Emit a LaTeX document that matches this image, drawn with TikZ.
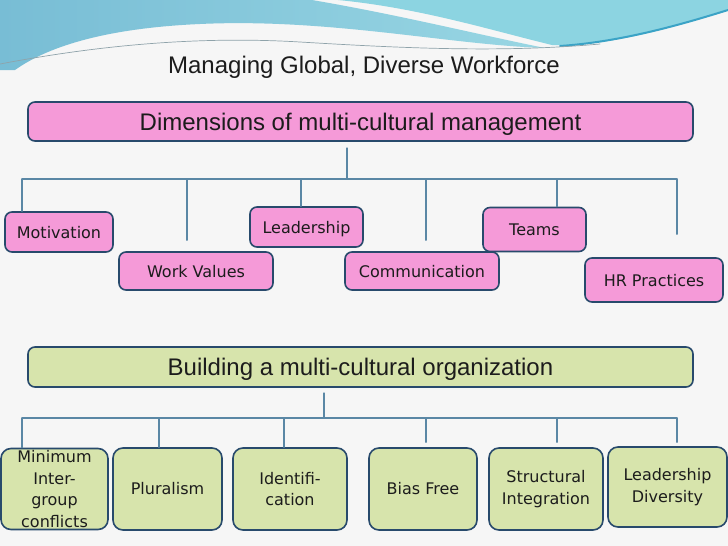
\documentclass[tikz,border=0pt]{standalone}
\usepackage{fontspec}
\setmainfont{Liberation Sans}
\newfontfamily\boxfont{DejaVu Sans}

\definecolor{pagebg}{HTML}{F6F6F6}
\definecolor{skyleft}{HTML}{78BDD5}
\definecolor{skyright}{HTML}{98D6E3}
\definecolor{skytop}{HTML}{8CD4E1}
\definecolor{skydeep}{HTML}{3BA3C6}
\definecolor{swoosh}{HTML}{8FA3AA}
\definecolor{pinkfill}{HTML}{F59AD8}
\definecolor{greenfill}{HTML}{D7E4AC}
\definecolor{boxline}{HTML}{284A6C}
\definecolor{railline}{HTML}{5A87A5}
\definecolor{inktext}{HTML}{1C1C1C}

\tikzset{
  headbox/.style={draw=boxline, line width=1.6pt, rounded corners=7pt,
    inner sep=0pt, text=inktext, text height=20pt, text depth=3pt,
    font=\fontsize{24}{28}\selectfont},
  pinkbox/.style={draw=boxline, fill=pinkfill, line width=1.6pt,
    rounded corners=7pt, inner sep=0pt, text=inktext,
    text height=12pt, text depth=0pt,
    font=\boxfont\fontsize{16}{20}\selectfont},
  greenbox/.style={draw=boxline, fill=greenfill, line width=1.6pt,
    rounded corners=10pt, inner sep=0pt, text=inktext, align=center,
    font=\boxfont\fontsize{16}{21.5}\selectfont},
  rail/.style={draw=railline, line width=1.2pt},
}

\begin{document}
\begin{tikzpicture}[x=1pt,y=-1pt,line cap=round,line join=round]
  \useasboundingbox (0,0) rectangle (728,546);
  \fill[pagebg] (0,0) rectangle (728,546);

  % wave at the top
  \shade[left color=skyleft, right color=skyright]
    (0,0) -- (312,0) .. controls (400,15) and (480,35) .. (545,48)
    .. controls (450,45) and (330,18) .. (200,24)
    .. controls (110,28) and (50,45) .. (15,70) -- (0,70) -- cycle;
  \fill[skytop]
    (338,0) -- (728,0) -- (728,10) .. controls (650,35) and (600,46) .. (552,45)
    .. controls (490,30) and (420,8) .. (338,0) -- cycle;
  \draw[skydeep, line width=2pt] (560,46) .. controls (620,42) and (680,25) .. (728,10);
  \draw[swoosh, line width=0.7pt] (0,64) .. controls (100,45) and (200,36) .. (300,42)
    .. controls (400,48) and (500,53) .. (600,44);

  \node[text=inktext, font=\fontsize{24}{28}\selectfont] (title) at (364,67)
    {Managing Global, Diverse Workforce};

  % dimensions
  \node[headbox, fill=pinkfill, minimum width=665pt, minimum height=39pt] (dim)
    at (360.5,121.5) {Dimensions of multi-cultural management};

  \node[pinkbox, minimum width=108pt, minimum height=40pt] (motiv) at (59,232) {Motivation};
  \node[pinkbox, minimum width=154pt, minimum height=38pt] (workv) at (196,271) {Work Values};
  \node[pinkbox, minimum width=113pt, minimum height=40pt] (lead) at (306.5,227) {Leadership};
  \node[pinkbox, minimum width=154pt, minimum height=38pt] (comm) at (422,271) {Communication};
  \node[pinkbox, minimum width=103pt, minimum height=44pt] (teams) at (534.5,229.5) {Teams};
  \node[pinkbox, minimum width=138pt, minimum height=44pt] (hr) at (654,280) {HR Practices};

  \coordinate (dimstem) at (347,148);
  \foreach \x/\n/\s in {22/motiv/0, 187/workv/11, 301/lead/0,
                        426/comm/11, 557/teams/0, 677/hr/23} {
    \coordinate (tb-\n) at (\x,179);
    \draw[rail, shorten >=\s pt] (tb-\n) -- (tb-\n |- \n.north);
  }
  \draw[rail] (tb-motiv) -- (tb-hr);
  \draw[rail] (dimstem) -- (dimstem |- tb-motiv);

  % building
  \node[headbox, fill=greenfill, minimum width=665pt, minimum height=40pt] (build)
    at (360.5,367) {Building a multi-cultural organization};

  \node[greenbox, minimum width=107pt, minimum height=81pt] (minim) at (54.5,489)
    {Minimum\\Inter-\\group\\conflicts};
  \node[greenbox, minimum width=109pt, minimum height=82pt] (plural) at (167.5,489) {Pluralism};
  \node[greenbox, minimum width=114pt, minimum height=82pt] (ident) at (290,489) {Identifi-\\cation};
  \node[greenbox, minimum width=108pt, minimum height=82pt] (bias) at (423,489) {Bias Free};
  \node[greenbox, minimum width=114pt, minimum height=82pt] (struct) at (546,489) {Structural\\Integration};
  \node[greenbox, minimum width=119pt, minimum height=80pt] (leaddiv) at (667.5,487) {Leadership\\Diversity};

  \coordinate (buildstem) at (324,393);
  \foreach \x/\n/\s in {22/minim/0, 159/plural/0, 284/ident/0,
                        426/bias/5, 557/struct/5, 677/leaddiv/4} {
    \coordinate (bb-\n) at (\x,418);
    \draw[rail, shorten >=\s pt] (bb-\n) -- (bb-\n |- \n.north);
  }
  \draw[rail] (bb-minim) -- (bb-leaddiv);
  \draw[rail] (buildstem) -- (buildstem |- bb-minim);
\end{tikzpicture}
\end{document}
